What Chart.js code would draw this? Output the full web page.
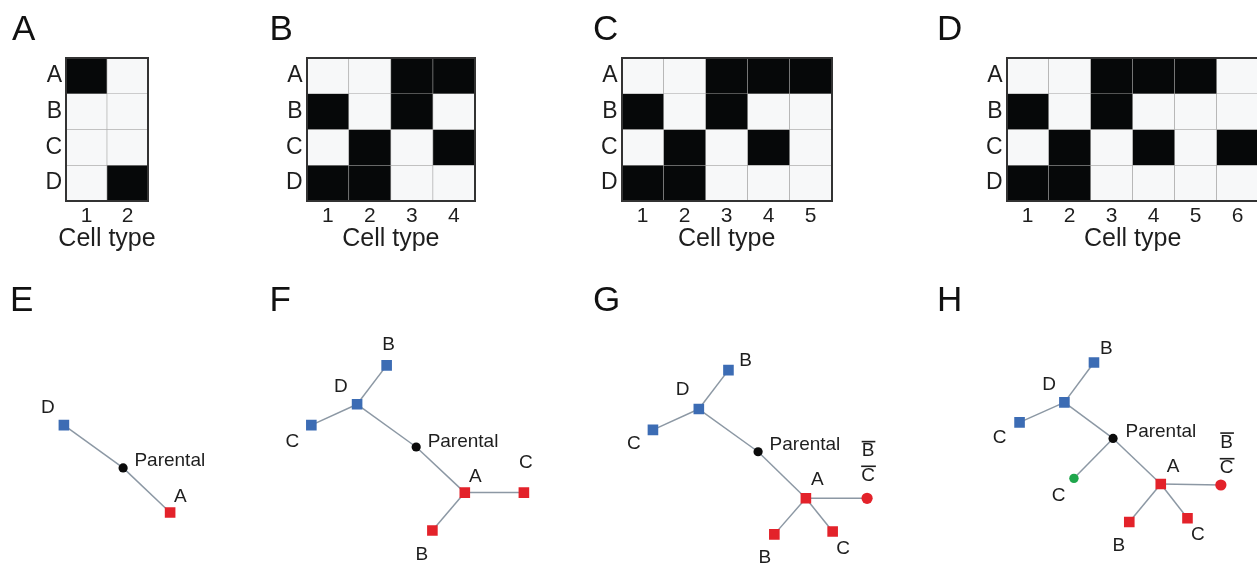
<!DOCTYPE html>
<html>
<head>
<meta charset="utf-8">
<script src="https://cdn.jsdelivr.net/npm/chart.js@4.4.0/dist/chart.umd.min.js"></script>
<style>
  body { margin: 0; background: #fff; }
  #wrap { position: relative; width: 1257px; height: 577px; overflow: hidden; background: #fff; }
  #wrap canvas { position: absolute; }
</style>
</head>
<body>
<div id="wrap">
  <canvas id="hmA" width="200" height="260" style="left:0;top:0"></canvas>
  <canvas id="hmB" width="230" height="260" style="left:260px;top:0"></canvas>
  <canvas id="hmC" width="270" height="260" style="left:580px;top:0"></canvas>
  <canvas id="hmD" width="350" height="260" style="left:910px;top:0"></canvas>
  <canvas id="trE" width="250" height="297" style="left:0;top:280px"></canvas>
  <canvas id="trF" width="320" height="297" style="left:260px;top:280px"></canvas>
  <canvas id="trG" width="340" height="297" style="left:590px;top:280px"></canvas>
  <canvas id="trH" width="327" height="297" style="left:930px;top:280px"></canvas>
</div>
<script>
// ---- heatmap data (1 = black cell) ----
var rowLabels = ['A', 'B', 'C', 'D'];
var xTitle = 'Cell type';
var cellTypesA = ['1', '2'];
var cellTypesB = ['1', '2', '3', '4'];
var cellTypesC = ['1', '2', '3', '4', '5'];
var cellTypesD = ['1', '2', '3', '4', '5', '6'];
var matrixA = [[1, 0], [0, 0], [0, 0], [0, 1]];
var matrixB = [[0, 0, 1, 1], [1, 0, 1, 0], [0, 1, 0, 1], [1, 1, 0, 0]];
var matrixC = [[0, 0, 1, 1, 1], [1, 0, 1, 0, 0], [0, 1, 0, 1, 0], [1, 1, 0, 0, 0]];
var matrixD = [[0, 0, 1, 1, 1, 0], [1, 0, 1, 0, 0, 0], [0, 1, 0, 1, 0, 1], [1, 1, 0, 0, 0, 0]];

// ---- tree data (layout units) ----
var nodesE = [{x: 6.0, y: 14.5, kind: 'blue'}, {x: 12.3, y: 19.0, kind: 'parent'}, {x: 17.3, y: 23.7, kind: 'red'}];
var edgesE = [[0, 1], [1, 2]];
var labelsE = [{text: 'D', x: 4.3, y: 12.7}, {text: 'Parental', x: 13.5, y: 18.3, align: 'left'}, {text: 'A', x: 18.4, y: 22.0}];

var nodesF = [
  {x: 12.5, y: 8.2, kind: 'blue'}, {x: 9.4, y: 12.3, kind: 'blue'}, {x: 4.6, y: 14.5, kind: 'blue'},
  {x: 15.6, y: 16.8, kind: 'parent'}, {x: 20.7, y: 21.6, kind: 'red'}, {x: 26.9, y: 21.6, kind: 'red'},
  {x: 17.3, y: 25.6, kind: 'red'}
];
var edgesF = [[0, 1], [1, 2], [1, 3], [3, 4], [4, 5], [4, 6]];
var labelsF = [
  {text: 'B', x: 12.7, y: 6.0}, {text: 'D', x: 7.7, y: 10.5}, {text: 'C', x: 2.6, y: 16.2},
  {text: 'Parental', x: 16.8, y: 16.2, align: 'left'}, {text: 'A', x: 21.8, y: 19.9},
  {text: 'C', x: 27.1, y: 18.5}, {text: 'B', x: 16.2, y: 28.2}
];

var nodesG = [
  {x: 13.7, y: 8.7, kind: 'blue'}, {x: 10.6, y: 12.8, kind: 'blue'}, {x: 5.8, y: 15.0, kind: 'blue'},
  {x: 16.8, y: 17.3, kind: 'parent'}, {x: 21.8, y: 22.2, kind: 'red'}, {x: 28.2, y: 22.2, kind: 'redDot'},
  {x: 18.5, y: 26.0, kind: 'red'}, {x: 24.6, y: 25.7, kind: 'red'}
];
var edgesG = [[0, 1], [1, 2], [1, 3], [3, 4], [4, 5], [4, 6], [4, 7]];
var labelsG = [
  {text: 'B', x: 15.5, y: 7.7}, {text: 'D', x: 8.9, y: 10.8}, {text: 'C', x: 3.8, y: 16.5},
  {text: 'Parental', x: 18.0, y: 16.6, align: 'left'}, {text: 'A', x: 23.0, y: 20.2},
  {text: 'B', x: 28.3, y: 17.2, over: true}, {text: 'C', x: 28.3, y: 19.8, over: true},
  {text: 'B', x: 17.5, y: 28.5}, {text: 'C', x: 25.7, y: 27.5}
];

var nodesH = [
  {x: 16.4, y: 7.9, kind: 'blue'}, {x: 13.3, y: 12.1, kind: 'blue'}, {x: 8.6, y: 14.2, kind: 'blue'},
  {x: 18.4, y: 15.9, kind: 'parent'}, {x: 14.3, y: 20.1, kind: 'green'}, {x: 23.4, y: 20.7, kind: 'red'},
  {x: 29.7, y: 20.8, kind: 'redDot'}, {x: 20.1, y: 24.7, kind: 'red'}, {x: 26.2, y: 24.3, kind: 'red'}
];
var edgesH = [[0, 1], [1, 2], [1, 3], [3, 4], [3, 5], [5, 6], [5, 7], [5, 8]];
var labelsH = [
  {text: 'B', x: 17.7, y: 6.5}, {text: 'D', x: 11.7, y: 10.2}, {text: 'C', x: 6.5, y: 15.8},
  {text: 'Parental', x: 19.7, y: 15.2, align: 'left'}, {text: 'C', x: 12.7, y: 21.9},
  {text: 'A', x: 24.7, y: 18.9}, {text: 'B', x: 30.3, y: 16.3, over: true}, {text: 'C', x: 30.3, y: 19.0, over: true},
  {text: 'B', x: 19.0, y: 27.2}, {text: 'C', x: 27.3, y: 26.0}
];

var FONT = '"Liberation Sans", Arial, sans-serif';
var TEXT = '#1e1e1e';
Chart.defaults.font.family = FONT;
Chart.defaults.color = TEXT;

// panel letter + free text labels (+ axis title under heatmaps)
function textPlugin(letter, lx, ly, labels, axisTitle) {
  return {
    id: 'textMarks',
    afterDraw: function (chart) {
      var ctx = chart.ctx;
      ctx.save();
      ctx.fillStyle = '#111';
      ctx.font = '35px ' + FONT;
      ctx.textBaseline = 'alphabetic';
      ctx.textAlign = 'left';
      ctx.fillText(letter, lx, ly);
      if (axisTitle) {
        var a = chart.chartArea;
        ctx.fillStyle = TEXT;
        ctx.font = '25px ' + FONT;
        ctx.textAlign = 'center';
        ctx.textBaseline = 'middle';
        ctx.fillText(axisTitle, (a.left + a.right) / 2, 239);
      }
      if (labels) {
        var xs = chart.scales.x, ys = chart.scales.y;
        ctx.font = '19px ' + FONT;
        ctx.fillStyle = TEXT;
        ctx.textBaseline = 'middle';
        labels.forEach(function (l) {
          var px = xs.getPixelForValue(l.x);
          var py = ys.getPixelForValue(l.y);
          ctx.textAlign = l.align || 'center';
          ctx.fillText(l.text, px, py);
          if (l.over) {
            var w = ctx.measureText(l.text).width;
            ctx.fillRect(px - w / 2, py - 10, w + 1, 1.6);
          }
        });
      }
      ctx.restore();
    }
  };
}

function heatmap(id, cellTypes, matrix, areaLeft, areaRight, letter, letterX) {
  var canvas = document.getElementById(id);
  var W = canvas.width, H = canvas.height;
  var datasets = matrix.map(function (row, r) {
    var base = rowLabels.length - 1 - r;
    return {
      data: row.map(function () { return [base, base + 1]; }),
      backgroundColor: row.map(function (v) { return v ? '#060809' : '#f7f8f9'; }),
      borderColor: '#a0a0a0',
      borderWidth: 0.6,
      borderSkipped: false,
      barPercentage: 1,
      categoryPercentage: 1,
      grouped: false
    };
  });
  var edge = {display: true, color: '#333', width: 2, z: 1};
  return new Chart(canvas, {
    type: 'bar',
    data: {labels: cellTypes, datasets: datasets},
    options: {
      responsive: false,
      animation: false,
      events: [],
      layout: {padding: {left: 0, top: 58, right: W - areaRight, bottom: 0}},
      plugins: {legend: {display: false}, tooltip: {enabled: false}},
      scales: {
        x: {
          offset: true,
          grid: {display: false, drawTicks: false},
          border: edge,
          ticks: {font: {size: 21}, padding: 3, color: TEXT},
          afterFit: function (s) { s.height = H - 201; }
        },
        x2: {
          position: 'top',
          grid: {display: false, drawTicks: false},
          border: edge,
          ticks: {display: false},
          afterFit: function (s) { s.height = 0; }
        },
        y: {
          min: 0,
          max: rowLabels.length,
          grid: {display: false, drawTicks: false},
          border: edge,
          ticks: {
            font: {size: 23},
            padding: 4,
            color: TEXT,
            autoSkip: false,
            callback: function (v) { return rowLabels[rowLabels.length - 1 - Math.floor(v)]; }
          },
          afterBuildTicks: function (s) {
            s.ticks = rowLabels.map(function (l, i) { return {value: i + 0.5}; });
          },
          afterFit: function (s) { s.width = areaLeft; }
        },
        y2: {
          position: 'right',
          min: 0,
          max: rowLabels.length,
          grid: {display: false, drawTicks: false},
          border: edge,
          ticks: {display: false},
          afterFit: function (s) { s.width = 0; }
        }
      }
    },
    plugins: [textPlugin(letter, letterX, 40, null, xTitle)]
  });
}

var nodeStyles = {
  blue: {color: '#3c6cb4', style: 'rect', r: 7.5},
  red: {color: '#e3222a', style: 'rect', r: 7.5},
  redDot: {color: '#e3222a', style: 'circle', r: 5.6},
  green: {color: '#1fa64c', style: 'circle', r: 4.7},
  parent: {color: '#0b0b0b', style: 'circle', r: 4.6}
};

function tree(id, nodes, edges, labels, letter, letterX) {
  var canvas = document.getElementById(id);
  var datasets = [];
  Object.keys(nodeStyles).forEach(function (k) {
    var pts = nodes.filter(function (n) { return n.kind === k; });
    if (!pts.length) return;
    var st = nodeStyles[k];
    datasets.push({
      data: pts.map(function (n) { return {x: n.x, y: n.y}; }),
      pointStyle: st.style,
      pointRadius: st.r,
      backgroundColor: st.color,
      borderWidth: 0,
      order: 0
    });
  });
  edges.forEach(function (e) {
    datasets.push({
      data: [{x: nodes[e[0]].x, y: nodes[e[0]].y}, {x: nodes[e[1]].x, y: nodes[e[1]].y}],
      showLine: true,
      pointRadius: 0,
      borderColor: '#8c98a4',
      borderWidth: 1.5,
      order: 1
    });
  });
  return new Chart(canvas, {
    type: 'scatter',
    data: {datasets: datasets},
    options: {
      responsive: false,
      animation: false,
      events: [],
      layout: {padding: 0},
      plugins: {legend: {display: false}, tooltip: {enabled: false}},
      scales: {
        x: {type: 'linear', min: 0, max: canvas.width / 10, display: false},
        y: {type: 'linear', min: 0, max: canvas.height / 10, reverse: true, display: false}
      }
    },
    plugins: [textPlugin(letter, letterX, 31, labels)]
  });
}

heatmap('hmA', cellTypesA, matrixA, 66, 148, 'A', 12);
heatmap('hmB', cellTypesB, matrixB, 46.7, 215, 'B', 9.5);
heatmap('hmC', cellTypesC, matrixC, 41.7, 251.7, 'C', 13);
heatmap('hmD', cellTypesD, matrixD, 96.7, 348.7, 'D', 27);

tree('trE', nodesE, edgesE, labelsE, 'E', 10);
tree('trF', nodesF, edgesF, labelsF, 'F', 9.5);
tree('trG', nodesG, edgesG, labelsG, 'G', 3);
tree('trH', nodesH, edgesH, labelsH, 'H', 7);
</script>
</body>
</html>
